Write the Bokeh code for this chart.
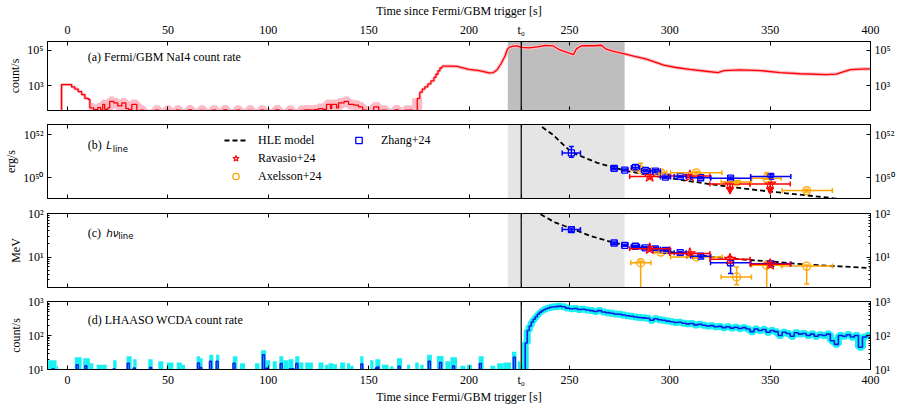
import numpy as np
from bokeh.plotting import figure
from bokeh.layouts import column
from bokeh.models import (FixedTicker, CustomJSTickFormatter, LinearAxis, LogAxis,
                          Range1d, BoxAnnotation, Arrow, Whisker, ColumnDataSource,
                          Label, Legend, LegendItem, NormalHead, TeeHead)
from bokeh.embed import file_html
from bokeh.resources import INLINE

# ---------------------------------------------------------------- data
T0 = 226.0
SHADE_START, SHADE_END = 219.3, 277.5
X_TICKS = [0, 50, 100, 150, 200, 250, 300, 350, 400]
X_LABEL = "Time since Fermi/GBM trigger [s]"

# (a) Fermi/GBM NaI4 count rate: stepped parts (t, count/s)
gbm_early = [(-10, 20), (-3, 1200), (2.0, 890), (3.6, 670), (5.3, 490), (7.0, 330),
             (8.6, 205), (10.3, 180), (11.1, 60)]
gbm_noise = [(11.1, 60), (13, 48), (15, 62), (16.5, 45),
             (17.5, 94), (18.5, 50), (20, 60), (21, 138), (23, 114), (25, 77),
             (27, 114), (29, 55), (30.5, 48), (32, 94), (34.5, 42), (36, 45),
             (38, 25), (43.5, 45), (45.5, 28), (49, 44), (51, 25), (54, 45), (56, 28),
             (60, 46), (62, 25), (66, 44), (68, 25), (72, 45), (74, 26), (77.5, 46),
             (79.5, 25), (84, 45), (86, 26), (90, 44), (92, 25), (96, 45), (98, 28),
             (103.5, 46), (105.5, 25), (110, 45), (112, 26), (116, 44), (118, 46),
             (121, 45), (123, 48), (125, 55), (127, 50), (129, 94), (131, 55),
             (131.6, 94), (134, 60), (135, 114), (137.8, 138), (140, 94),
             (142.6, 85), (145, 68), (147, 45), (149, 35), (152.5, 68), (155, 44),
             (157, 45), (159, 28), (163, 46), (165, 30), (168, 45), (170, 45),
             (172, 42), (174.2, 205)]
gbm_rise = [(174.2, 205), (175.5, 450), (176.7, 670), (178, 900), (179.5, 1300),
            (181, 1900), (182.5, 3000), (183.5, 4500), (184.5, 7000),
            (185.5, 10000), (186.5, 12600)]
# (a) smooth part (t, count/s)
gbm_line = [(186.5, 12600), (191, 12600), (194, 12300), (196, 10700), (200, 8300),
            (205, 7200), (210, 5300), (212, 5500), (214, 8000), (216, 17800),
            (218, 48000), (219, 105000), (220, 141000), (222, 166000),
            (224, 170000), (226, 141000), (230, 132000), (235, 155000),
            (238, 182000), (242, 170000), (245, 105000), (248, 79000),
            (252, 56000), (253.5, 117000), (256, 174000), (262, 174000),
            (266, 186000), (268, 117000), (272, 85000), (277, 63000),
            (282, 46000), (288, 32000), (292, 23000), (297, 14500), (303, 10700),
            (310, 8300), (318, 6600), (324, 5600), (327, 7200), (335, 7800),
            (345, 7200), (355, 5600), (365, 4800), (378, 4300), (383, 4600),
            (386, 5900), (390, 8100), (395, 8700), (400, 8900)]

# (b) line luminosity, log10(erg/s)
zhang_t = [251.0, 272.3, 277.6, 282.9, 287.9, 292.8, 297.9, 305.2, 315.4, 330.3, 350.3]
zhang_t_lo = [246.4, 270.8, 276.1, 280.9, 285.9, 290.3, 295.4, 302.2, 310.4, 320.3, 340.3]
zhang_t_hi = [255.5, 273.8, 279.1, 284.9, 289.9, 295.3, 300.4, 308.2, 320.4, 340.3, 360.3]
zhang_logL = [51.15, 50.43, 50.35, 50.47, 50.33, 50.30, 50.02, 50.05, 49.99, 49.97, 50.05]
zhang_logL_hi = [51.45, 50.50, 50.40, 50.60, 50.39, 50.36, 50.07, 50.10, 50.04, 50.02, 50.13]
zhang_logL_lo = [50.95, 50.36, 50.30, 50.39, 50.27, 50.24, 49.97, 50.00, 49.94, 49.92, 49.99]
zhang_E = [42.7, 21.0, 18.6, 17.7, 16.3, 15.3, 14.3, 12.6, 10.5, 7.4, 7.0]
zhang_E_hi = [46.5, 22.2, 19.6, 18.7, 17.3, 16.3, 15.1, 13.4, 11.3, 8.5, 7.6]
zhang_E_lo = [38.9, 19.8, 17.6, 16.7, 15.3, 14.3, 13.5, 11.8, 9.7, 4.2, 6.4]

ravasio_t = [290.0, 310.0, 330.0, 350.0]
ravasio_t_lo = [280.0, 300.0, 320.0, 340.0]
ravasio_t_hi = [300.0, 320.0, 340.0, 360.0]
ravasio_logL = [50.05, 50.07, 49.70, 49.70]
ravasio_logL_hi = [50.13, 50.13, 49.77, 49.77]
ravasio_logL_lo = [49.97, 50.01, 49.22, 49.22]
ravasio_limit = [False, False, True, True]
ravasio_E = [15.5, 12.0, 8.9, 6.8]
ravasio_E_hi = [17.0, 13.0, 10.3, 7.5]
ravasio_E_lo = [14.0, 11.0, 7.4, 6.2]

axelsson_t = [285.5, 295.6, 313.2, 333.3, 348.3, 368.2]
axelsson_t_lo = [280.6, 292.5, 300.4, 325.6, 340.8, 356.0]
axelsson_t_hi = [290.6, 298.5, 326.0, 340.7, 355.5, 381.0]
axelsson_logL = [50.36, 50.22, 50.22, 49.79, 49.97, 49.39]
axelsson_logL_hi = [50.67, 50.30, 50.28, 49.85, 50.22, 49.45]
axelsson_logL_lo = [50.28, 50.15, 50.16, 49.73, 49.92, 49.33]
axelsson_E = [7.4, 13.0, 10.0, 3.5, 6.5, 6.2]
axelsson_E_hi = [8.0, 14.0, 10.6, 5.9, 7.2, 6.6]
axelsson_E_lo = [1.0, 12.0, 9.4, 2.3, 1.0, 2.4]

hle_L_t = [236.4, 242.2, 246.0, 251.0, 257.0, 263.8, 272.0, 280.0, 293.8, 310.4,
           330.3, 350.3, 368.0, 381.8, 400.0]
hle_logL = [52.36, 51.97, 51.62, 51.19, 50.95, 50.69, 50.47, 50.28, 50.06, 49.82,
            49.56, 49.34, 49.17, 49.03, 48.87]
hle_E_t = [235.6, 243.0, 251.0, 261.0, 272.0, 283.0, 293.8, 310.4, 330.3, 350.3,
           368.6, 385.0, 400.0]
hle_E = [96, 62, 45, 30, 21.5, 17, 14.3, 11.4, 9.2, 7.9, 6.7, 6.1, 5.6]

# (d) LHAASO WCDA before t0: upper error bars (start, end, upper count/s)
wcda_pre_err = [(-9.7, -5.5, 18.7), (-5.5, -4.7, 12.9), (3.6, 7.0, 23), (7.8, 11.1, 21.6),
                (11.1, 12.8, 15.2), (14.5, 19.5, 13.7), (22.7, 24.4, 18.7),
                (29.4, 31.9, 24.6), (32.7, 34.4, 20), (40.2, 42.4, 20), (45.2, 47.7, 17.6),
                (49.4, 52.7, 16.2), (54.4, 56.9, 16), (56.9, 58.5, 13.7), (64.3, 66.0, 24.6),
                (66.0, 67.3, 21.6), (70.6, 72.6, 27), (74.0, 75.6, 27), (82.3, 84.6, 24.6),
                (85.9, 88.4, 15.2), (93.4, 95.6, 15.2), (96.4, 98.9, 37), (98.9, 100.9, 18.7),
                (102.2, 104.2, 17.6), (105.5, 107.5, 24.6), (107.5, 110.0, 18.7),
                (110.0, 112.5, 20), (113.4, 115.5, 24.6), (115.5, 117.5, 16.2),
                (118.4, 122.2, 16), (125.0, 127.5, 16.2), (128.3, 130.0, 13.7),
                (130.0, 132.5, 15.2), (132.5, 134.2, 14.3), (135.8, 138.3, 16.2),
                (139.2, 140.8, 15.2), (140.8, 142.5, 12.9), (145.8, 147.4, 24.6),
                (150.8, 152.4, 18.7), (153.3, 155.8, 20), (156.6, 159.9, 13.7),
                (160.7, 162.4, 12.5), (164.1, 166.6, 21.6), (169.1, 170.7, 13.7),
                (173.2, 174.9, 16.2), (175.7, 177.4, 13.7), (179.1, 181.5, 27),
                (184.0, 187.3, 25), (188.2, 190.7, 17.6), (190.7, 194.0, 23),
                (195.7, 198.2, 12.9), (199.0, 201.5, 13.7), (204.8, 207.3, 24.6),
                (210.6, 213.1, 12.9), (214.0, 217.3, 15.2), (217.3, 220.9, 16.2),
                (221.4, 223.6, 33), (224.3, 225.6, 17.6), (227.2, 228.6, 16.8)]
# (d) LHAASO WCDA before t0: non-zero 1-s bins (centre, count/s)
wcda_pre_spikes = [(-7.2, 10.5), (4.8, 13.7), (9.1, 13), (23.1, 10.3), (30.2, 15.2),
                   (33.2, 11), (41.4, 11.5), (65.2, 15.5), (66.3, 11.5), (71.2, 17.6),
                   (74.5, 17.6), (82.9, 15.2), (97.6, 27), (99.2, 10.8), (106.4, 15),
                   (110.9, 10.3), (112.2, 10.5), (114.2, 15), (146.6, 14.5), (153.8, 11),
                   (154.6, 11.8), (165.2, 12.5), (180.2, 17.6), (185.8, 16),
                   (192.3, 12.7), (205.6, 15), (222.6, 23)]
WCDA_BIN = 1.0
# (d) LHAASO WCDA after t0 (bin start, count/s)
wcda_post = [(227, 0), (228, 60), (229, 140), (230, 190), (231, 250), (232, 300),
             (233, 355), (234, 420), (235, 480), (236, 530), (237, 570), (238, 610),
             (239, 640), (240, 670), (241, 690), (242, 700), (243, 705), (244, 720),
             (245, 730), (246, 700), (248, 640), (250, 610), (252, 620), (254, 580),
             (256, 590), (258, 560), (260, 540), (262, 510), (264, 540), (266, 490),
             (268, 470), (270, 450), (272, 430), (274, 420), (276, 400), (278, 380),
             (280, 370), (282, 350), (284, 340), (286, 330), (288, 320), (290, 280),
             (292, 310), (294, 290), (296, 280), (298, 265), (300, 255), (302, 240),
             (304, 245), (306, 230), (308, 220), (310, 225), (312, 205), (314, 215),
             (316, 200), (318, 190), (320, 195), (322, 180), (324, 185), (326, 170),
             (328, 180), (330, 165), (332, 175), (334, 160), (336, 170), (338, 155),
             (340, 130), (342, 155), (344, 140), (346, 150), (348, 125), (350, 140),
             (352, 130), (354, 100), (356, 125), (358, 115), (360, 95), (362, 120),
             (364, 110), (366, 115), (368, 100), (370, 110), (372, 95), (374, 105),
             (376, 100), (378, 110), (380, 70), (382, 55), (384, 100), (386, 95),
             (388, 105), (390, 90), (392, 100), (394, 45), (396, 90), (398, 100),
             (400, 100)]

# ---------------------------------------------------------------- style
SERIF = "Liberation Serif"
SANS = "DejaVu Sans"
W = 897
RED, ORANGE, BLUE = "#ff0000", "#ffa500", "#0000ff"
PINK, CYAN, WBLUE = "#fbbcc8", "#19f0f2", "#0a1ee6"
XR = Range1d(-10, 400)
FS = "12px"

XF = CustomJSTickFormatter(args=dict(t0=T0), code="""
if (Math.abs(tick - t0) < 1e-6) { return 't\u2080'; }
return String(Math.round(tick));
""")
YF = CustomJSTickFormatter(code="""
const sup = {'0':'\u2070','1':'\u00b9','2':'\u00b2','3':'\u00b3','4':'\u2074',
             '5':'\u2075','6':'\u2076','7':'\u2077','8':'\u2078','9':'\u2079','-':'\u207b'};
const e = Math.round(Math.log10(tick));
return '10' + String(e).split('').map(c => sup[c]).join('');
""")


def style_axis(ax, labels, standoff):
    ax.axis_line_color = "black"
    ax.major_tick_line_color = "black"
    ax.minor_tick_line_color = "black"
    ax.major_tick_in = 4
    ax.major_tick_out = 0
    ax.minor_tick_in = 2
    ax.minor_tick_out = 0
    ax.major_label_text_font = SERIF
    if labels:
        ax.major_label_text_color = "black"
        ax.major_label_text_font_size = FS
        ax.major_label_standoff = standoff
    else:
        ax.major_label_text_color = None
        ax.major_label_text_font_size = "1px"
        ax.major_label_standoff = 0
    ax.axis_label_text_font = SERIF
    ax.axis_label_text_font_style = "normal"
    ax.axis_label_text_font_size = FS
    ax.axis_label_text_color = "black"
    ax.axis_label_standoff = 2


def make_fig(frame_h, yr, top, bottom, ylabel, yticks, yminor, top_labels=False,
             bottom_labels=False):
    p = figure(width=W, height=top + frame_h + bottom, x_range=XR, y_range=Range1d(*yr),
               y_axis_type="log", x_axis_location=None, y_axis_location=None,
               output_backend="svg", toolbar_location=None,
               min_border_left=47, min_border_right=27,
               min_border_top=top, min_border_bottom=bottom)
    p.grid.visible = False
    p.outline_line_color = "black"
    p.outline_line_width = 1
    p.background_fill_color = "white"
    p.border_fill_color = "white"
    xt = FixedTicker(ticks=X_TICKS + [T0], minor_ticks=[])
    for loc, show, so in (("above", top_labels, 5), ("below", bottom_labels, 3)):
        ax = LinearAxis(ticker=xt, formatter=XF)
        style_axis(ax, show, so)
        if show:
            ax.axis_label = X_LABEL
            if loc == "below":
                ax.axis_label_standoff = 0
        p.add_layout(ax, loc)
    yt = FixedTicker(ticks=yticks, minor_ticks=yminor)
    for loc in ("left", "right"):
        ax = LogAxis(ticker=yt, formatter=YF)
        style_axis(ax, True, 4)
        if loc == "left":
            ax.axis_label = ylabel
        p.add_layout(ax, loc)
    return p


def t0_line(p, y_top, y_bottom):
    p.add_layout(Arrow(x_start=T0, x_end=T0, y_start=y_top, y_end=y_bottom,
                       start=None, end=None, line_color="black", line_width=1.2,
                       level="overlay"))


def shade(p, color):
    p.add_layout(BoxAnnotation(left=SHADE_START, right=SHADE_END, fill_color=color,
                               fill_alpha=1.0, line_color=None, level="underlay"))


def panel_label(p, y, pre, sym=None, sub=None, sub_dx=0):
    p.add_layout(Label(x=10, y=y, text=pre, text_font=SERIF, text_font_size=FS,
                       text_baseline="middle", text_color="black"))
    if sym:
        p.add_layout(Label(x=10, y=y, x_offset=18.5, text=sym, text_font=SANS,
                           text_font_style="italic", text_font_size="10.5px",
                           text_baseline="middle", text_color="black"))
        p.add_layout(Label(x=10, y=y, x_offset=18.5 + sub_dx,
                           y_offset=-3.5, text=sub, text_font=SANS,
                           text_font_size="8.5px", text_baseline="middle",
                           text_color="black"))


def err_bars(p, t, v, tlo, thi, vlo, vhi, color, marker, size, limit=None):
    src = ColumnDataSource(dict(t=t, v=v, tlo=tlo, thi=thi, vlo=vlo, vhi=vhi))
    head = lambda: TeeHead(size=5, line_color=color, line_width=1.5)
    p.add_layout(Whisker(source=src, base="v", lower="tlo", upper="thi", dimension="width",
                         line_color=color, line_width=1.5, upper_head=head(),
                         lower_head=head(), level="glyph"))
    if limit is None:
        p.add_layout(Whisker(source=src, base="t", lower="vlo", upper="vhi",
                             dimension="height", line_color=color, line_width=1.5,
                             upper_head=head(), lower_head=head(), level="glyph"))
    else:
        idx_n = [i for i, f in enumerate(limit) if not f]
        idx_l = [i for i, f in enumerate(limit) if f]
        s_n = ColumnDataSource(dict(t=[t[i] for i in idx_n], vlo=[vlo[i] for i in idx_n],
                                    vhi=[vhi[i] for i in idx_n]))
        s_l = ColumnDataSource(dict(t=[t[i] for i in idx_l], v=[v[i] for i in idx_l],
                                    vlo=[vlo[i] for i in idx_l], vhi=[vhi[i] for i in idx_l]))
        p.add_layout(Whisker(source=s_n, base="t", lower="vlo", upper="vhi",
                             dimension="height", line_color=color, line_width=1.5,
                             upper_head=head(), lower_head=head(), level="glyph"))
        p.add_layout(Whisker(source=s_l, base="t", lower="v", upper="vhi",
                             dimension="height", line_color=color, line_width=1.5,
                             upper_head=head(), lower_head=None, level="glyph"))
        p.add_layout(Arrow(source=s_l, x_start="t", y_start="v", x_end="t", y_end="vlo",
                           start=None,
                           end=NormalHead(size=6, fill_color=color, line_color=color),
                           line_color=color, line_width=1.5, level="glyph"))
    lw = 1.1 if marker == "star" else 1.3
    return p.scatter("t", "v", source=src, marker=marker, size=size, fill_color="white",
                     line_color=color, line_width=lw)


# ---------------------------------------------------------------- (a)
fa = make_fig(75, (43, 3.0e5), 35, 7, "count/s", [1e3, 1e5], [], top_labels=True)
shade(fa, "#bebebe")
for part, pw in ((gbm_early, 3), (gbm_noise, 10), (gbm_rise, 3)):
    pt, pv = map(list, zip(*part))
    fa.step(pt, pv, mode="after", line_color=PINK, line_width=pw)
gl_t, gl_v = map(list, zip(*gbm_line))
fa.line(gl_t, gl_v, line_color=PINK, line_width=3.5)
for part in (gbm_early, gbm_noise, gbm_rise):
    pt, pv = map(list, zip(*part))
    fa.step(pt, pv, mode="after", line_color=RED, line_width=1.3)
fa.line(gl_t, gl_v, line_color=RED, line_width=1.3)
panel_label(fa, 4.1e4, "(a) Fermi/GBM NaI4 count rate")
t0_line(fa, 3.0e5, 1e-3)

# ---------------------------------------------------------------- (b)
fb = make_fig(74, (1.05e49, 3.0e52), 7, 7, "erg/s", [1e50, 1e52], [])
shade(fb, "#e5e5e5")
p10 = lambda a: [10.0 ** x for x in a]
hle_b = fb.line(hle_L_t, p10(hle_logL), line_color="black", line_width=1.8, line_dash="5 3")
rav_b = err_bars(fb, ravasio_t, p10(ravasio_logL), ravasio_t_lo, ravasio_t_hi,
                 p10(ravasio_logL_lo), p10(ravasio_logL_hi), RED, "star", 12,
                 limit=ravasio_limit)
axe_b = err_bars(fb, axelsson_t, p10(axelsson_logL), axelsson_t_lo, axelsson_t_hi,
                 p10(axelsson_logL_lo), p10(axelsson_logL_hi), ORANGE, "circle", 8)
zh_b = err_bars(fb, zhang_t, p10(zhang_logL), zhang_t_lo, zhang_t_hi,
                p10(zhang_logL_lo), p10(zhang_logL_hi), BLUE, "square", 6)
panel_label(fb, 3.2e51, "(b)", "L", "line", sub_dx=6.5)
t0_line(fb, 1e60, 1e40)


def mk_legend(items, loc):
    lg = Legend(items=items, location=loc, orientation="vertical",
                label_text_font=SERIF, label_text_font_size=FS,
                label_text_color="black", glyph_width=23, glyph_height=16,
                label_height=16, label_standoff=11, spacing=2, padding=0, margin=0,
                border_line_color=None, background_fill_alpha=0)
    fb.add_layout(lg)


mk_legend([LegendItem(label="HLE model", renderers=[hle_b]),
           LegendItem(label="Ravasio+24", renderers=[rav_b]),
           LegendItem(label="Axelsson+24", renderers=[axe_b])], (177, 14))
mk_legend([LegendItem(label="Zhang+24", renderers=[zh_b])], (300, 50))

# ---------------------------------------------------------------- (c)
c_minor = [m * d for d in (1, 10) for m in range(2, 10)]
fc = make_fig(74, (2.0, 100), 8, 6, "MeV", [10, 100], c_minor)
shade(fc, "#e5e5e5")
fc.line(hle_E_t, hle_E, line_color="black", line_width=1.8, line_dash="5 3")
err_bars(fc, axelsson_t, axelsson_E, axelsson_t_lo, axelsson_t_hi, axelsson_E_lo,
         axelsson_E_hi, ORANGE, "circle", 8)
err_bars(fc, zhang_t, zhang_E, zhang_t_lo, zhang_t_hi, zhang_E_lo, zhang_E_hi,
         BLUE, "square", 6)
err_bars(fc, ravasio_t, ravasio_E, ravasio_t_lo, ravasio_t_hi, ravasio_E_lo,
         ravasio_E_hi, RED, "star", 12)
panel_label(fc, 36, "(c)", "h\u03bd", "line", sub_dx=12)
t0_line(fc, 1e5, 1e-5)

# ---------------------------------------------------------------- (d)
d_minor = [m * d for d in (10, 100) for m in range(2, 10)]
fd = make_fig(74, (10, 1000), 8, 31, "count/s", [10, 100, 1000], d_minor,
              bottom_labels=True)
FLOOR = 1.0  # zero-count bins drawn below the axis
e_l, e_r, e_hi = map(list, zip(*wcda_pre_err))
fd.quad(left=e_l, right=e_r, top=e_hi, bottom=FLOOR, fill_color=CYAN, line_color=None)
s_c, s_v = map(list, zip(*wcda_pre_spikes))
fd.quad(left=[c - WCDA_BIN / 2 for c in s_c], right=[c + WCDA_BIN / 2 for c in s_c],
        top=s_v, bottom=FLOOR, fill_color=None, line_color=WBLUE, line_width=1.5)
w_t, w_v = map(list, zip(*wcda_post))
w_v = [v if v > 0 else FLOOR for v in w_v]
fd.step(w_t, w_v, mode="after", line_color=CYAN, line_width=7)
fd.step(w_t, w_v, mode="after", line_color=WBLUE, line_width=1.6)
panel_label(fd, 285, "(d) LHAASO WCDA count rate")
t0_line(fd, 1e5, 8.6)

layout = column(fa, fb, fc, fd)
open("out.html", "w").write(file_html(layout, INLINE))
